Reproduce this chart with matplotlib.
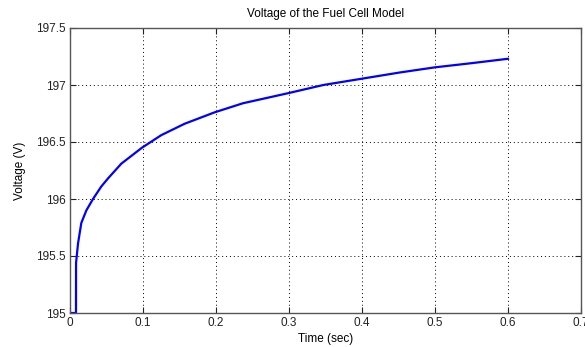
import numpy as np
import matplotlib.pyplot as plt

# values
time = [0.0, 0.0082, 0.0083, 0.011, 0.0155, 0.0224, 0.0315, 0.0429, 0.052,
        0.0703, 0.0986, 0.125, 0.157, 0.198, 0.237, 0.300, 0.347, 0.3995,
        0.452, 0.5, 0.548, 0.6]
voltage = [195.0, 195.0, 195.44, 195.61, 195.79, 195.90, 196.0, 196.11, 196.18,
           196.31, 196.45, 196.56, 196.66, 196.76, 196.84, 196.93, 197.0, 197.055,
           197.11, 197.155, 197.19, 197.23]

x_ticks = [0, 0.1, 0.2, 0.3, 0.4, 0.5, 0.6, 0.7]
x_tick_labels = ['0', '0.1', '0.2', '0.3', '0.4', '0.5', '0.6', '0.7']
y_ticks = [195, 195.5, 196, 196.5, 197, 197.5]
y_tick_labels = ['195', '195.5', '196', '196.5', '197', '197.5']

plt.rcParams['font.family'] = ['Liberation Sans', 'DejaVu Sans']

fig = plt.figure(figsize=(5.85, 3.47), dpi=100)
ax = fig.add_axes([70/585, 34/347, 511/585, 285/347])

ax.plot(time, voltage, color='#0000ff', lw=1.6, solid_joinstyle='round')

ax.set_xlim(0, 0.7)
ax.set_ylim(195, 197.5)
ax.set_xticks(x_ticks)
ax.set_xticklabels(x_tick_labels)
ax.set_yticks(y_ticks)
ax.set_yticklabels(y_tick_labels)

ax.grid(True, color='black', linestyle=(0, (1, 3)), linewidth=0.7)
ax.tick_params(direction='in', length=4, width=0.8, top=True, right=True,
               labelsize=8.5, colors='#222222', pad=3)
for s in ax.spines.values():
    s.set_color('#555555')
    s.set_linewidth(1.0)

ax.set_title('Voltage of the Fuel Cell Model', fontsize=8.5, pad=8)
ax.set_xlabel('Time (sec)', fontsize=8.5, labelpad=3)
ax.set_ylabel('Voltage (V)', fontsize=8.5, labelpad=7)

fig.savefig('out.png', dpi=100)
